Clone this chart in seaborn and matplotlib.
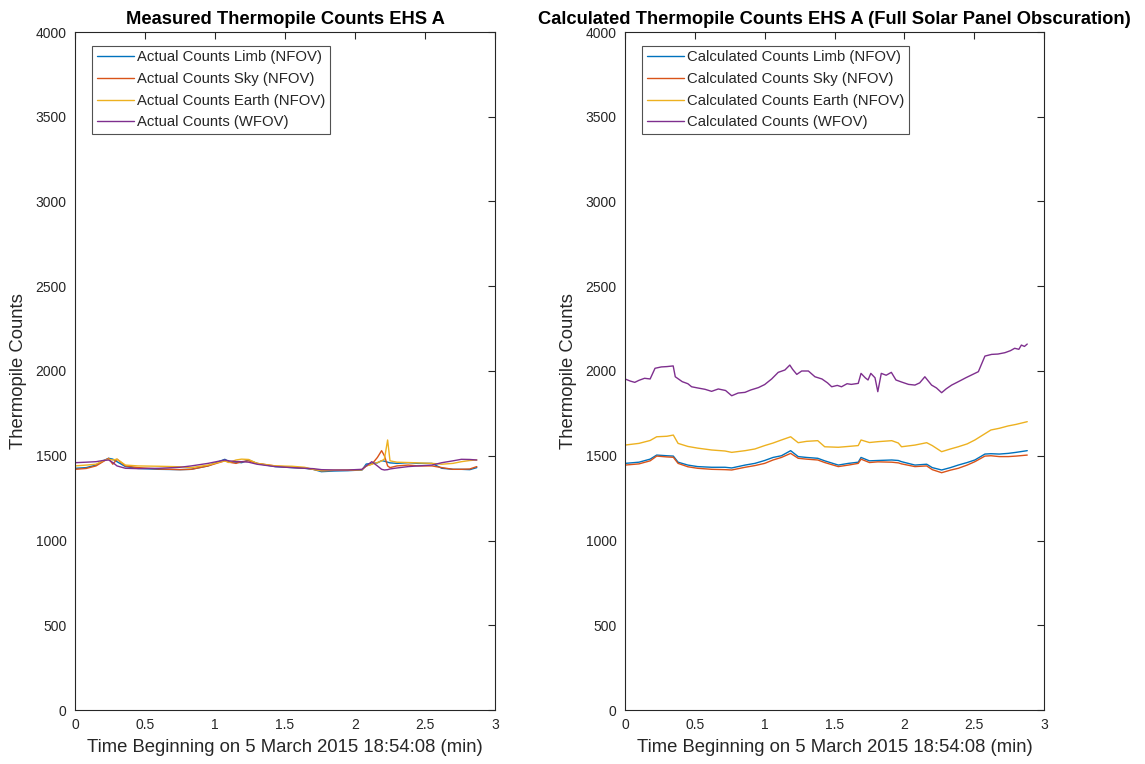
import matplotlib
matplotlib.use("Agg")
import matplotlib.pyplot as plt
import seaborn as sns
import pandas as pd
from matplotlib.ticker import FuncFormatter, MultipleLocator

sns.set_theme(style="white")
plt.rcParams['font.family'] = ['Liberation Sans', 'DejaVu Sans']

# ---------------- data: measured (left) ----------------
L_T = [0.00, 0.08, 0.15, 0.20, 0.24, 0.27, 0.30, 0.36, 0.45, 0.60,
       0.75, 0.83, 0.95, 1.07, 1.10, 1.15, 1.19, 1.24, 1.30, 1.43,
       1.55, 1.64, 1.70, 1.76, 1.85, 1.95, 2.05, 2.08, 2.12, 2.16,
       2.19, 2.21, 2.233, 2.25, 2.30, 2.38, 2.45, 2.55, 2.62, 2.70,
       2.76, 2.82, 2.87]
L_LIMB = [1426, 1430, 1445, 1470, 1485, 1480, 1465, 1436, 1425, 1420,
          1418, 1420, 1440, 1479, 1465, 1462, 1459, 1475, 1455, 1436,
          1430, 1426, 1420, 1406, 1410, 1412, 1416, 1451, 1455, 1458,
          1471, 1468, 1462, 1458, 1455, 1459, 1455, 1455, 1426, 1420,
          1420, 1418, 1430]
L_SKY = [1420, 1425, 1440, 1465, 1485, 1450, 1480, 1440, 1430, 1422,
         1418, 1420, 1440, 1470, 1462, 1455, 1465, 1470, 1455, 1440,
         1432, 1428, 1420, 1412, 1414, 1414, 1418, 1440, 1450, 1490,
         1530, 1500, 1440, 1430, 1440, 1445, 1440, 1440, 1430, 1420,
         1420, 1422, 1436]
L_EARTH = [1440, 1445, 1450, 1470, 1480, 1475, 1480, 1445, 1440, 1438,
           1435, 1430, 1445, 1470, 1460, 1475, 1480, 1478, 1455, 1440,
           1438, 1432, 1420, 1412, 1414, 1416, 1418, 1440, 1450, 1460,
           1470, 1480, 1593, 1470, 1462, 1460, 1458, 1455, 1450, 1455,
           1465, 1472, 1475]
L_WFOV = [1459, 1462, 1465, 1472, 1475, 1460, 1440, 1426, 1424, 1426,
          1432, 1440, 1455, 1475, 1470, 1466, 1465, 1462, 1450, 1436,
          1430, 1426, 1424, 1418, 1416, 1416, 1420, 1440, 1465, 1440,
          1420, 1416, 1418, 1422, 1428, 1436, 1440, 1445, 1459, 1470,
          1479, 1478, 1475]

# ---------------- data: calculated (right) ----------------
R_T = [0.00, 0.10, 0.18, 0.227, 0.30, 0.346, 0.38, 0.45, 0.52, 0.62,
       0.716, 0.764, 0.86, 0.93, 1.00, 1.06, 1.12, 1.186, 1.24, 1.30,
       1.38, 1.43, 1.527, 1.60, 1.67, 1.69, 1.75, 1.81, 1.91, 1.957,
       1.98, 2.076, 2.16, 2.20, 2.267, 2.33, 2.386, 2.45, 2.505, 2.577,
       2.62, 2.68, 2.744, 2.80, 2.88]
R_LIMB = [1455, 1462, 1480, 1504, 1500, 1498, 1462, 1445, 1436, 1432,
          1432, 1428, 1445, 1455, 1472, 1490, 1500, 1530, 1495, 1490,
          1485, 1470, 1445, 1455, 1462, 1490, 1470, 1472, 1475, 1472,
          1465, 1445, 1450, 1430, 1416, 1430, 1445, 1460, 1475, 1510,
          1512, 1510, 1514, 1520, 1530]
R_SKY = [1445, 1452, 1470, 1498, 1493, 1491, 1455, 1435, 1426, 1420,
         1418, 1416, 1432, 1442, 1455, 1475, 1490, 1514, 1485, 1480,
         1475, 1460, 1436, 1445, 1455, 1480, 1460, 1464, 1462, 1458,
         1452, 1436, 1440, 1418, 1400, 1415, 1426, 1445, 1465, 1498,
         1500, 1495, 1495, 1498, 1504]
R_EARTH = [1563, 1573, 1590, 1612, 1615, 1622, 1573, 1555, 1545, 1534,
           1528, 1520, 1530, 1540, 1560, 1575, 1593, 1612, 1577, 1585,
           1589, 1553, 1550, 1555, 1560, 1593, 1578, 1583, 1589, 1575,
           1553, 1563, 1577, 1560, 1524, 1540, 1553, 1570, 1593, 1630,
           1652, 1662, 1676, 1685, 1701]
R_WFOV_T = [0.00, 0.04, 0.07, 0.10, 0.14, 0.18, 0.215, 0.26, 0.30, 0.345,
            0.36, 0.41, 0.45, 0.477, 0.52, 0.573, 0.62, 0.668, 0.72, 0.764,
            0.81, 0.859, 0.90, 0.955, 1.00, 1.05, 1.097, 1.145, 1.18, 1.20,
            1.23, 1.265, 1.313, 1.36, 1.41, 1.45, 1.48, 1.52, 1.55, 1.59,
            1.62, 1.67, 1.69, 1.72, 1.74, 1.76, 1.79, 1.81, 1.835, 1.87,
            1.907, 1.94, 1.98, 2.03, 2.076, 2.11, 2.147, 2.195, 2.23, 2.267,
            2.30, 2.339, 2.37, 2.41, 2.44, 2.48, 2.53, 2.577, 2.625, 2.67,
            2.72, 2.76, 2.79, 2.82, 2.838, 2.86, 2.88]
R_WFOV = [1953, 1940, 1933, 1945, 1957, 1953, 2016, 2024, 2026, 2030,
          1966, 1937, 1925, 1907, 1900, 1892, 1880, 1894, 1885, 1854,
          1870, 1874, 1888, 1902, 1920, 1953, 1992, 2006, 2035, 2010,
          1980, 2000, 2000, 1966, 1953, 1930, 1907, 1915, 1907, 1925,
          1921, 1927, 1986, 1960, 1947, 1986, 1960, 1878, 1986, 1975,
          1992, 1947, 1935, 1921, 1917, 1930, 1966, 1917, 1900, 1872,
          1895, 1917, 1930, 1947, 1960, 1976, 1996, 2088, 2098, 2100,
          2108, 2120, 2134, 2128, 2153, 2145, 2159]

L_LABELS = ["Actual Counts Limb (NFOV)", "Actual Counts Sky (NFOV)",
            "Actual Counts Earth (NFOV)", "Actual Counts (WFOV)"]
R_LABELS = ["Calculated Counts Limb (NFOV)", "Calculated Counts Sky (NFOV)",
            "Calculated Counts Earth (NFOV)", "Calculated Counts (WFOV)"]
TITLES = ["Measured Thermopile Counts EHS A",
          "Calculated Thermopile Counts EHS A (Full Solar Panel Obscuration)"]
XLABEL = "Time Beginning on 5 March 2015 18:54:08 (min)"
YLABEL = "Thermopile Counts"

COLORS = ["#0072BD", "#D95319", "#EDB120", "#7E2F8E"]


def long_df(series):
    frames = []
    for label, t, v in series:
        frames.append(pd.DataFrame({"t": t, "v": v, "s": label}))
    return pd.concat(frames, ignore_index=True)


left_df = long_df([(L_LABELS[0], L_T, L_LIMB), (L_LABELS[1], L_T, L_SKY),
                   (L_LABELS[2], L_T, L_EARTH), (L_LABELS[3], L_T, L_WFOV)])
right_df = long_df([(R_LABELS[0], R_T, R_LIMB), (R_LABELS[1], R_T, R_SKY),
                    (R_LABELS[2], R_T, R_EARTH), (R_LABELS[3], R_WFOV_T, R_WFOV)])

W, H = 1145, 764
fig = plt.figure(figsize=(W / 100, H / 100), dpi=100)
ax1 = fig.add_axes([75 / W, (H - 710) / H, 420 / W, 678 / H])
ax2 = fig.add_axes([625 / W, (H - 710) / H, 419 / W, 678 / H])

GRAY = "#262626"
for ax, df, labels, title in [(ax1, left_df, L_LABELS, TITLES[0]),
                              (ax2, right_df, R_LABELS, TITLES[1])]:
    sns.lineplot(data=df, x="t", y="v", hue="s", hue_order=labels,
                 palette=COLORS, linewidth=1.0, ax=ax, sort=False,
                 estimator=None)
    ax.set_xlim(0, 3)
    ax.set_ylim(0, 4000)
    ax.xaxis.set_major_locator(MultipleLocator(0.5))
    ax.yaxis.set_major_locator(MultipleLocator(500))
    ax.xaxis.set_major_formatter(FuncFormatter(lambda x, p: "%g" % x))
    ax.yaxis.set_major_formatter(FuncFormatter(lambda x, p: "%g" % x))
    ax.tick_params(direction="in", length=5, width=0.8, colors=GRAY,
                   labelsize=10, top=True, right=True, pad=6)
    for sp in ax.spines.values():
        sp.set_visible(True)
        sp.set_color(GRAY)
        sp.set_linewidth(0.8)
    ax.set_xlabel(XLABEL, fontsize=13.3, color=GRAY, labelpad=5)
    ax.set_ylabel(YLABEL, fontsize=13.3, color=GRAY, labelpad=6)
    ax.set_title(title, fontsize=13.2, fontweight="bold", color="black", pad=6)
    leg = ax.legend(loc="upper left", bbox_to_anchor=(0.04, 0.98),
                    fontsize=10.7, frameon=True, fancybox=False,
                    handlelength=2.5, handletextpad=0.25, labelspacing=0.52,
                    borderpad=0.32, borderaxespad=0)
    leg.get_frame().set_edgecolor(GRAY)
    leg.get_frame().set_linewidth(0.8)
    leg.set_title(None)

fig.savefig("out.png", dpi=100)
